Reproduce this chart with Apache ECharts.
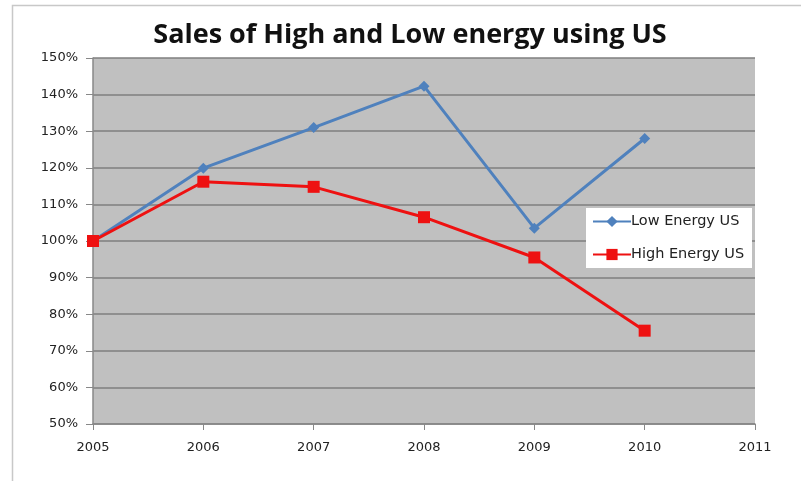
<!DOCTYPE html>
<html><head><meta charset="utf-8">
<script src="https://cdn.jsdelivr.net/npm/echarts@6/dist/echarts.min.js"></script>
<style>html,body{margin:0;padding:0;background:#fff;}#c{width:801px;height:481px;}</style>
</head><body><div id="c"></div>
<script>
const years = [2005, 2006, 2007, 2008, 2009, 2010];
const lowEnergy = [100, 119.9, 131, 142.3, 103.5, 128];
const highEnergy = [100, 116.2, 114.8, 106.5, 95.5, 75.5];
const seriesNames = ['Low Energy US', 'High Energy US'];
const titleText = 'Sales of High and Low energy using US';

const chart = echarts.init(document.getElementById('c'));
const font = 'DejaVu Sans, sans-serif';
chart.setOption({
  animation: false,
  backgroundColor: '#ffffff',
  graphic: [
    {
      type: 'rect', left: 10, top: 3, shape: {width: 820, height: 520},
      style: {fill: 'none', stroke: '#c8c8c8', lineWidth: 1.5}, silent: true
    },
    {
      type: 'rect', left: 586, top: 208, z: 3, shape: {width: 166, height: 60},
      style: {fill: '#ffffff'}, silent: true
    }
  ],
  title: {
    text: titleText, left: 405, top: 17, textAlign: 'center',
    textStyle: {fontFamily: 'Open Sans, sans-serif', fontWeight: 'bold', fontSize: 27, color: '#111'}
  },
  legend: {
    orient: 'vertical', left: 592, top: 214, z: 5,
    padding: 0, itemGap: 18,
    itemWidth: 38, itemHeight: 14,
    textStyle: {fontFamily: font, fontSize: 14.5, color: '#222', padding: [0, 0, 0, -5]},
    data: seriesNames
  },
  grid: {
    left: 93, right: 46, top: 58, bottom: 57, show: true,
    backgroundColor: '#c0c0c0', borderWidth: 0, containLabel: false
  },
  xAxis: {
    type: 'value', min: 2005, max: 2011, interval: 1,
    axisLine: {show: true, lineStyle: {color: '#888', width: 1.5}},
    axisTick: {show: true, length: 6, lineStyle: {color: '#888'}},
    splitLine: {show: false},
    axisLabel: {formatter: v => String(v), fontFamily: font, fontSize: 13, color: '#222', margin: 17}
  },
  yAxis: {
    type: 'value', min: 50, max: 150, interval: 10,
    axisLine: {show: true, lineStyle: {color: '#888', width: 1.5}},
    axisTick: {show: true, length: 7, lineStyle: {color: '#888'}},
    splitLine: {show: true, lineStyle: {color: '#7f7f7f', width: 1.5}},
    axisLabel: {formatter: '{value}%', fontFamily: font, fontSize: 13, color: '#222', margin: 15}
  },
  series: [
    {
      name: seriesNames[0], type: 'line',
      data: years.map((y, i) => [y, lowEnergy[i]]),
      symbol: 'diamond', symbolSize: 11,
      lineStyle: {color: '#4f81bd', width: 3},
      itemStyle: {color: '#4f81bd'}
    },
    {
      name: seriesNames[1], type: 'line',
      data: years.map((y, i) => [y, highEnergy[i]]),
      symbol: 'rect', symbolSize: 12,
      lineStyle: {color: '#ee1111', width: 3},
      itemStyle: {color: '#ee1111'}
    }
  ]
});
</script></body></html>
